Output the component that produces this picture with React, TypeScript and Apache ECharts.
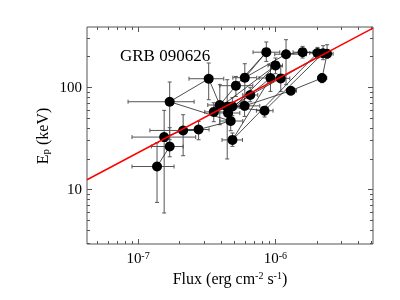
import React, { useEffect, useRef } from 'react';
import * as echarts from 'echarts';

// Time-ordered spectral points of GRB 090626
const flux = [1.375e-7, 1.70e-7, 1.55e-7, 2.13e-7, 2.76e-7, 4.73e-7, 1.70e-7, 3.27e-7, 3.94e-7, 5.16e-7,
  8.59e-7, 5.99e-7, 1.196e-6, 1.578e-6, 2.026e-6, 4.87e-7, 9.21e-7, 4.52e-7, 1.002e-6, 3.56e-7,
  4.86e-7, 6.56e-7, 1.095e-6, 2.226e-6, 8.34e-7, 4.46e-7, 5.97e-7, 1.295e-6, 2.188e-6, 2.380e-6];
const fluxLo = [9.04e-8, 1.25e-7, 9.04e-8, 1.22e-7, 2.25e-7, 3.94e-7, 8.46e-8, 2.35e-7, 3.22e-7, 3.94e-7,
  6.88e-7, 4.90e-7, 9.90e-7, 1.346e-6, 1.780e-6, 4.09e-7, 7.61e-7, 3.81e-7, 8.85e-7, 3.06e-7,
  4.07e-7, 5.79e-7, 9.62e-7, 1.969e-6, 7.28e-7, 3.62e-7, 4.90e-7, 1.204e-6, 2.036e-6, 2.106e-6];
const fluxHi = [1.83e-7, 2.13e-7, 2.63e-7, 2.81e-7, 3.29e-7, 5.79e-7, 2.56e-7, 4.21e-7, 4.81e-7, 6.85e-7,
  1.077e-6, 7.32e-7, 1.685e-6, 1.882e-6, 2.356e-6, 5.76e-7, 1.138e-6, 5.51e-7, 1.127e-6, 4.28e-7,
  5.99e-7, 7.44e-7, 1.273e-6, 2.490e-6, 9.62e-7, 5.51e-7, 7.70e-7, 1.424e-6, 2.368e-6, 2.632e-6];
const ep = [16.7, 26.2, 32.4, 37.6, 38.4, 46.5, 71.8, 120.5, 66.7, 103,
  218.9, 123.3, 209.2, 218.9, 215.0, 30.4, 122.5, 55.7, 162.6, 57.1,
  64.6, 83.5, 121.4, 214.0, 58.7, 64.2, 65.4, 92.0, 122.5, 211.6];
const epLo = [7.45, 20.8, 5.87, 21.3, 30.5, 37.4, 30.5, 75.1, 42.8, 80.9,
  177.9, 80.9, 105.3, 192.1, 192.1, 26.3, 90.6, 43.8, 134.9, 45.8,
  52.4, 71.8, 90.6, 184.9, 50.9, 19.8, 51.6, 84.1, 110.2, 192.1];
const epHi = [28.5, 40.0, 59.1, 53.6, 46.1, 60.0, 111.9, 171.6, 105.3, 126.9,
  275.4, 168.9, 290.0, 249.4, 243.9, 35.5, 165.2, 68.7, 192.1, 70.2,
  78.6, 98.4, 159.0, 253.3, 64.6, 117.9, 80.9, 100, 134.9, 259.1];

// Best-fit power law (drawn across the axis range)
const fitFlux = [4.25e-8, 5.14e-6];
const fitEp = [12.4, 377];

// Axis ranges and tick values
const xRange = [4.25e-8, 5.14e-6];
const yRange = [2.92, 386];
const xMajor = [1e-7, 1e-6];
const xMinor = [5e-8, 6e-8, 7e-8, 8e-8, 9e-8, 2e-7, 3e-7, 4e-7, 5e-7, 6e-7, 7e-7, 8e-7, 9e-7, 2e-6, 3e-6, 4e-6, 5e-6];
const yMajor = [10, 100];
const yMinor = [3, 4, 5, 6, 7, 8, 9, 20, 30, 40, 50, 60, 70, 80, 90, 200, 300];

const FONT = '"Liberation Serif", "Times New Roman", serif';
const AX = '#555';

export default function App() {
  const ref = useRef<HTMLDivElement>(null);
  useEffect(() => {
    const chart = echarts.init(ref.current!, null, { renderer: 'svg' });
    const yMid = 30;
    const xMid = 3e-7;
    const tickStyle = { stroke: AX, lineWidth: 1 };
    const xTickData = [
      ...xMajor.map((v) => [v, yMid, 1]),
      ...xMinor.map((v) => [v, yMid, 0]),
    ];
    const yTickData = [
      ...yMajor.map((v) => [xMid, v, 1]),
      ...yMinor.map((v) => [xMid, v, 0]),
    ];
    const pts = flux.map((f, i) => [f, ep[i]]);
    const errData = flux.map((f, i) => [f, ep[i], fluxLo[i], fluxHi[i], epLo[i], epHi[i]]);

    const option: any = {
      animation: false,
      grid: { left: 87, right: 27, top: 27, bottom: 56, show: true, borderColor: AX, borderWidth: 1, backgroundColor: 'transparent' },
      xAxis: {
        type: 'log', logBase: 10, min: xRange[0], max: xRange[1],
        axisLine: { show: false }, axisTick: { show: false }, splitLine: { show: false }, minorTick: { show: false },
        axisLabel: {
          showMinLabel: false, showMaxLabel: false, margin: 6,
          formatter: (v: number) => `{b|10}{s|${Math.round(Math.log10(v))}}`,
          rich: {
            b: { fontFamily: FONT, fontSize: 15, color: '#000' },
            s: { fontFamily: FONT, fontSize: 10, color: '#000', verticalAlign: 'top' },
          },
        },
      },
      yAxis: {
        type: 'log', logBase: 10, min: yRange[0], max: yRange[1],
        axisLine: { show: false }, axisTick: { show: false }, splitLine: { show: false }, minorTick: { show: false },
        axisLabel: {
          showMinLabel: false, showMaxLabel: false, margin: 5,
          fontFamily: FONT, fontSize: 15, color: '#000',
          formatter: (v: number) => String(Math.round(v)),
        },
      },
      series: [
        {
          type: 'custom', clip: false, silent: true, z: 1,
          data: xTickData, encode: { x: 0, y: 1 },
          renderItem: (params: any, api: any) => {
            const cs = params.coordSys;
            const px = Math.round(api.coord([api.value(0), yMid])[0]) + 0.5;
            const len = api.value(2) ? 5 : 3;
            const b = cs.y + cs.height;
            return {
              type: 'group', children: [
                { type: 'line', shape: { x1: px, y1: b, x2: px, y2: b - len }, style: tickStyle },
                { type: 'line', shape: { x1: px, y1: cs.y, x2: px, y2: cs.y + len }, style: tickStyle },
              ],
            };
          },
        },
        {
          type: 'custom', clip: false, silent: true, z: 1,
          data: yTickData, encode: { x: 0, y: 1 },
          renderItem: (params: any, api: any) => {
            const cs = params.coordSys;
            const py = Math.round(api.coord([xMid, api.value(1)])[1]) + 0.5;
            const len = api.value(2) ? 5 : 3;
            const r = cs.x + cs.width;
            return {
              type: 'group', children: [
                { type: 'line', shape: { x1: cs.x, y1: py, x2: cs.x + len, y2: py }, style: tickStyle },
                { type: 'line', shape: { x1: r, y1: py, x2: r - len, y2: py }, style: tickStyle },
              ],
            };
          },
        },
        {
          type: 'custom', silent: true, z: 2,
          data: errData, encode: { x: 0, y: 1 },
          renderItem: (params: any, api: any) => {
            const x = api.value(0), y = api.value(1);
            const xl = api.coord([api.value(2), y]);
            const xh = api.coord([api.value(3), y]);
            const yl = api.coord([x, api.value(4)]);
            const yh = api.coord([x, api.value(5)]);
            const cap = 2;
            const st = { stroke: '#555', lineWidth: 1 };
            return {
              type: 'group', children: [
                { type: 'line', shape: { x1: xl[0], y1: xl[1], x2: xh[0], y2: xh[1] }, style: st },
                { type: 'line', shape: { x1: xl[0], y1: xl[1] - cap, x2: xl[0], y2: xl[1] + cap }, style: st },
                { type: 'line', shape: { x1: xh[0], y1: xh[1] - cap, x2: xh[0], y2: xh[1] + cap }, style: st },
                { type: 'line', shape: { x1: yl[0], y1: yl[1], x2: yh[0], y2: yh[1] }, style: st },
                { type: 'line', shape: { x1: yl[0] - cap, y1: yl[1], x2: yl[0] + cap, y2: yl[1] }, style: st },
                { type: 'line', shape: { x1: yh[0] - cap, y1: yh[1], x2: yh[0] + cap, y2: yh[1] }, style: st },
              ],
            };
          },
        },
        {
          type: 'line', data: pts, showSymbol: false, silent: true, z: 3,
          lineStyle: { color: '#222', width: 0.8 },
        },
        {
          type: 'scatter', data: pts, symbol: 'circle', symbolSize: 10, silent: true, z: 4,
          itemStyle: { color: '#000', opacity: 1 },
        },
        {
          type: 'line', data: fitFlux.map((f, i) => [f, fitEp[i]]), showSymbol: false, silent: true, z: 5,
          lineStyle: { color: '#ff0000', width: 1.5 },
        },
      ],
      graphic: [
        {
          type: 'text', x: 120, y: 55,
          style: { text: 'GRB 090626', fontFamily: FONT, fontSize: 17, fill: '#000', verticalAlign: 'middle' },
        },
        {
          type: 'text', x: 230, y: 278,
          style: {
            text: '{a|Flux (erg cm}{s|-2}{a| s}{s|-1}{a|)}', align: 'center', verticalAlign: 'middle',
            rich: {
              a: { fontFamily: FONT, fontSize: 16, fill: '#000' },
              s: { fontFamily: FONT, fontSize: 10, fill: '#000', verticalAlign: 'top' },
            },
          },
        },
        {
          type: 'text', x: 42, y: 136, rotation: Math.PI / 2,
          style: {
            text: '{a|E}{b|p}{a| (keV)}', align: 'center', verticalAlign: 'middle',
            rich: {
              a: { fontFamily: FONT, fontSize: 16, fill: '#000' },
              b: { fontFamily: FONT, fontSize: 11, fill: '#000', verticalAlign: 'bottom' },
            },
          },
        },
      ],
    };
    chart.setOption(option);
    return () => chart.dispose();
  }, []);
  return <div ref={ref} style={{ position: 'fixed', left: 0, top: 0, width: 400, height: 300 }} />;
}
